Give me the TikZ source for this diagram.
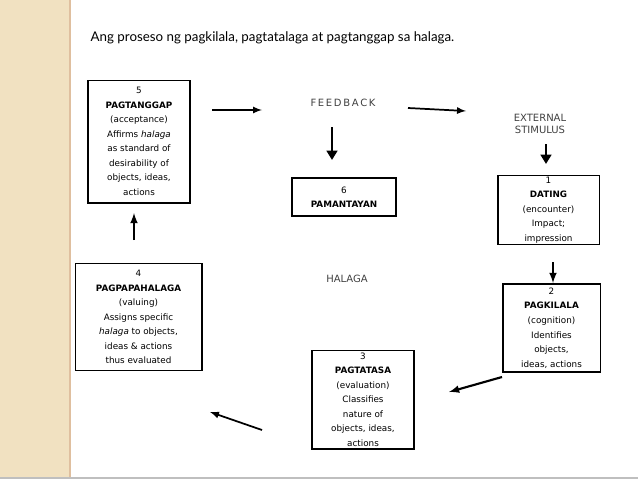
\documentclass[tikz,border=0pt]{standalone}
\usepackage{fontspec}
\usetikzlibrary{arrows.meta}
\setmainfont{DejaVu Sans}
\newfontfamily\titlefont{Lato}
\begin{document}
\begin{tikzpicture}[x=0.75pt,y=-0.75pt,
  bx/.style={draw,line width=1pt,align=center,inner sep=1pt,font=\fontsize{6.6}{10.9}\selectfont},
  lbl/.style={align=center,font=\fontsize{7.5}{9}\selectfont,text=black!75},
  ar/.style={-latex,line width=1.3pt},
  big/.style={-{Triangle[width=8pt,length=7pt]},line width=2.2pt}]
\useasboundingbox (0,0) rectangle (638,479);
\fill[yellow!20!brown!30] (0,0) rectangle (70,479);
\draw[brown!50,line width=1pt] (70,0) -- (70,479);
\draw[gray!50,line width=1pt] (0,478) -- (638,478);
\node[anchor=west,font=\titlefont\fontsize{10}{12}\selectfont] (t) at (86,38) {Ang proseso ng pagkilala, pagtatalaga at pagtanggap sa halaga.};
\node[bx,minimum width=76.5pt,minimum height=92pt] (b5) at (139,141.5) {5\\\textbf{PAGTANGGAP}\\(acceptance)\\Affirms \textit{halaga}\\as standard of\\desirability of\\objects, ideas,\\actions};
\node[bx,minimum width=78pt,minimum height=28.5pt] (b6) at (344,197) {6\\\textbf{PAMANTAYAN}};
\node[bx,minimum width=76pt,minimum height=51pt] (b1) at (548.5,210) {1\\\textbf{DATING}\\(encounter)\\Impact;\\impression};
\node[bx,minimum width=95pt,minimum height=80pt] (b4) at (138.5,317) {4\\\textbf{PAGPAPAHALAGA}\\(valuing)\\Assigns specific\\\textit{halaga} to objects,\\ideas \& actions\\thus evaluated};
\node[bx,minimum width=73pt,minimum height=66pt] (b2) at (551.5,328) {2\\\textbf{PAGKILALA}\\(cognition)\\Identifies\\objects,\\ideas, actions};
\node[bx,minimum width=76.5pt,minimum height=74pt] (b3) at (363,399.5) {3\\\textbf{PAGTATASA}\\(evaluation)\\Classifies\\nature of\\objects, ideas,\\actions};
\node[lbl] (fb) at (343,103) {F\,E\,E\,D\,B\,A\,C\,K};
\node[lbl] (ext) at (540,124) {EXTERNAL\\STIMULUS};
\node[lbl] (hal) at (347,279) {HALAGA};
\coordinate (a1) at (212,110); \coordinate (a2) at (262,110);
\coordinate (a3) at (408,108); \coordinate (a4) at (466,111);
\coordinate (a5) at (332,127); \coordinate (a6) at (332,160);
\coordinate (a7) at (546,144); \coordinate (a8) at (546,164);
\coordinate (a9) at (134,240); \coordinate (a10) at (134,213);
\coordinate (a11) at (553,262); \coordinate (a12) at (553,283);
\coordinate (a13) at (502,377); \coordinate (a14) at (449,392);
\coordinate (a15) at (262,430); \coordinate (a16) at (210,412);
\draw[ar] (a1) -- (a2);
\draw[ar] (a3) -- (a4);
\draw[big] (a5) -- (a6);
\draw[big] (a7) -- (a8);
\draw[ar,line width=1.6pt] (a9) -- (a10);
\draw[ar,line width=1.6pt] (a11) -- (a12);
\draw[ar,line width=1.6pt] (a13) -- (a14);
\draw[ar] (a15) -- (a16);
\end{tikzpicture}
\end{document}
